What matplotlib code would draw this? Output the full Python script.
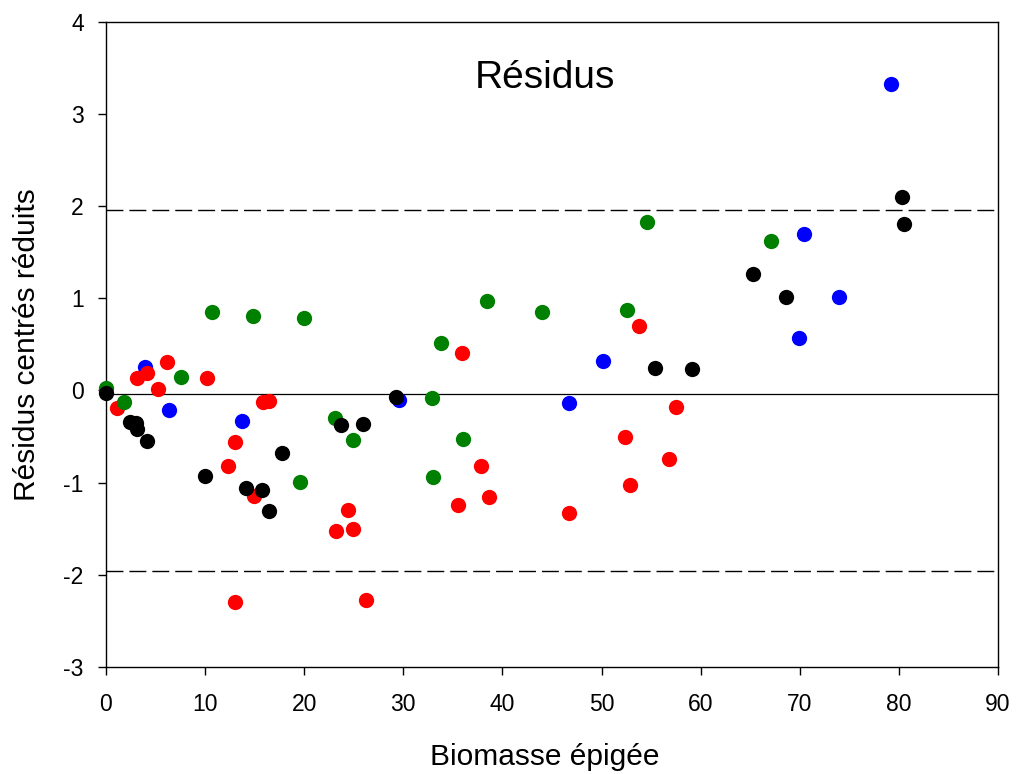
import matplotlib
matplotlib.use("Agg")
import matplotlib.pyplot as plt

plt.rcParams['font.family'] = ['Liberation Sans', 'DejaVu Sans']
plt.rcParams['axes.unicode_minus'] = False

# Data (x = biomasse épigée, y = résidus centrés réduits)
blue_x = [3.93, 6.36, 13.72, 29.6, 46.75, 50.18, 69.95, 70.39, 73.96, 79.17]
blue_y = [0.25, -0.21, -0.33, -0.10, -0.14, 0.32, 0.57, 1.70, 1.01, 3.33]

red_x = [1.08, 3.16, 4.1, 5.28, 6.19, 10.22, 12.28, 13.02, 13.0, 14.93, 15.81, 16.48,
         23.24, 24.42, 24.92, 26.27, 35.52, 35.95, 37.87, 38.68, 46.71, 52.37, 52.87,
         53.75, 56.84, 57.54]
red_y = [-0.19, 0.13, 0.19, 0.015, 0.305, 0.13, -0.82, -0.56, -2.30, -1.15, -0.13, -0.115,
         -1.53, -1.30, -1.51, -2.28, -1.24, 0.41, -0.82, -1.16, -1.335, -0.51, -1.03,
         0.70, -0.74, -0.177]

green_x = [0.0, 1.85, 7.57, 10.7, 14.83, 19.54, 19.98, 23.14, 24.96, 32.86, 33.03, 33.77,
           36.02, 38.47, 43.99, 52.57, 54.55, 67.06]
green_y = [0.03, -0.13, 0.15, 0.85, 0.81, -0.99, 0.79, -0.30, -0.54, -0.086, -0.94, 0.52,
           -0.53, 0.97, 0.855, 0.873, 1.825, 1.62]

black_x = [0.0, 2.42, 3.0, 3.1, 4.17, 9.99, 14.1, 15.74, 16.48, 17.79, 23.71, 25.96,
           29.26, 55.42, 59.09, 65.32, 68.61, 80.28, 80.49]
black_y = [-0.025, -0.34, -0.35, -0.42, -0.55, -0.93, -1.06, -1.08, -1.31, -0.68, -0.38, -0.36,
           -0.075, 0.243, 0.229, 1.26, 1.01, 2.10, 1.81]

limit = 1.96
mean_line = -0.035
x_ticks = [0, 10, 20, 30, 40, 50, 60, 70, 80, 90]
y_ticks = [-3, -2, -1, 0, 1, 2, 3, 4]

fig = plt.figure(figsize=(10.17, 7.74), dpi=100)
ax = fig.add_axes([0.1042, 0.1386, 0.8771, 0.833])

ax.axhline(limit, color='black', lw=1.0, dashes=(12.2, 4.3), zorder=1)
ax.axhline(-limit, color='black', lw=1.0, dashes=(12.2, 4.3), zorder=1)
ax.axhline(mean_line, color='black', lw=0.9, zorder=1)

ms = 11
ax.plot(blue_x, blue_y, 'o', color='#0000ff', ms=ms, mew=0, zorder=2, clip_on=False)
ax.plot(red_x, red_y, 'o', color='#ff0000', ms=ms, mew=0, zorder=3, clip_on=False)
ax.plot(green_x, green_y, 'o', color='#008000', ms=ms, mew=0, zorder=4, clip_on=False)
ax.plot(black_x, black_y, 'o', color='#000000', ms=ms, mew=0, zorder=5, clip_on=False)

ax.set_xlim(0, 90)
ax.set_ylim(-3, 4)
ax.set_xticks(x_ticks)
ax.set_yticks(y_ticks)
ax.tick_params(axis='both', direction='out', length=6, width=1.0, labelsize=16.5)
ax.tick_params(axis='x', pad=13)
ax.tick_params(axis='y', pad=10)
for s in ax.spines.values():
    s.set_linewidth(1.0)

ax.set_xlabel('Biomasse épigée', fontsize=21.5)
ax.set_ylabel('Résidus centrés réduits', fontsize=21.5)
ax.xaxis.set_label_coords(0.492, -0.14)
ax.xaxis.label.set_verticalalignment('center')
ax.yaxis.set_label_coords(-0.0886, 0.50)
ax.yaxis.label.set_verticalalignment('center')

ax.text(0.492, 0.913, 'Résidus', transform=ax.transAxes, ha='center', va='center',
        fontsize=28)

fig.savefig('out.png', dpi=100)
